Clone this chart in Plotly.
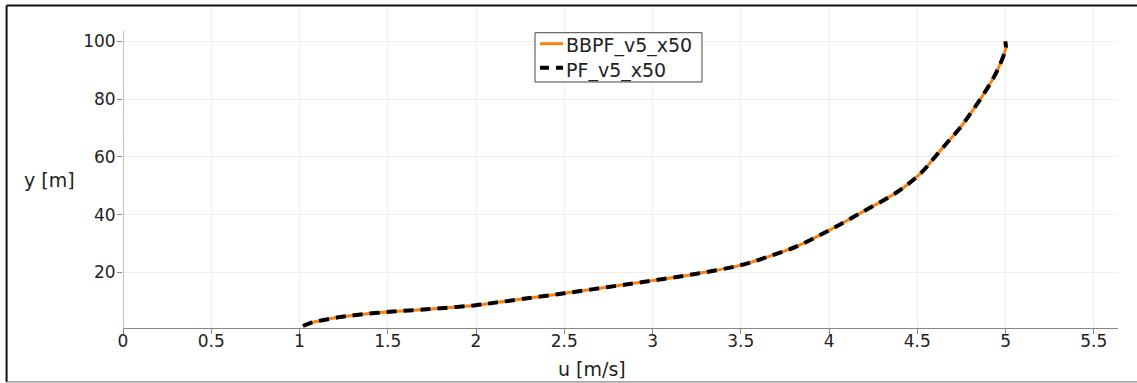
import plotly.graph_objects as go

# Velocity profile u(y) for the two solvers
u_bbpf = [1.02, 1.07, 1.13, 1.22, 1.32, 1.51, 1.70, 1.89, 2.00, 2.10, 2.27, 2.50,
          2.75, 3.00, 3.25, 3.49, 3.68, 3.83, 4.00, 4.19, 4.38, 4.46, 4.53, 4.60,
          4.67, 4.74, 4.81, 4.87, 4.93, 4.97, 4.995, 5.002, 4.998]
y_bbpf = [1.5, 2.7, 3.5, 4.5, 5.3, 6.4, 7.2, 8.1, 8.7, 9.5, 10.9, 12.8,
          15.0, 17.2, 19.6, 22.4, 26.0, 29.4, 34.6, 41.0, 47.6, 51.2, 55.0, 60.0,
          65.0, 69.9, 75.8, 81.2, 87.2, 92.2, 96.2, 98.2, 100.0]

u_pf = [1.02, 1.07, 1.13, 1.22, 1.32, 1.51, 1.70, 1.89, 2.00, 2.10, 2.27, 2.50,
        2.75, 3.00, 3.25, 3.49, 3.68, 3.83, 4.00, 4.19, 4.38, 4.46, 4.53, 4.60,
        4.67, 4.74, 4.81, 4.87, 4.93, 4.97, 4.995, 5.002, 4.998]
y_pf = [1.5, 2.7, 3.5, 4.5, 5.3, 6.4, 7.2, 8.1, 8.7, 9.5, 10.9, 12.8,
        15.0, 17.2, 19.6, 22.4, 26.0, 29.4, 34.6, 41.0, 47.6, 51.2, 55.0, 60.0,
        65.0, 69.9, 75.8, 81.2, 87.2, 92.2, 96.2, 98.2, 100.0]

series_names = ["BBPF_v5_x50", "PF_v5_x50"]

x_ticks = [0, 0.5, 1, 1.5, 2, 2.5, 3, 3.5, 4, 4.5, 5, 5.5]
x_tick_text = ["0", "0.5", "1", "1.5", "2", "2.5", "3", "3.5", "4", "4.5", "5", "5.5"]
y_ticks = [20, 40, 60, 80, 100]

X_RANGE = [0, 5.637]
Y_RANGE = [0.8, 111.9]
FONT = "DejaVu Sans, Verdana, sans-serif"
TEXT = "#222222"
ORANGE = "#ff7f0e"
DASH = "10px,7px"

fig = go.Figure()
fig.add_trace(go.Scatter(x=u_bbpf, y=y_bbpf, mode="lines", name=series_names[0],
                         showlegend=False,
                         line=dict(color=ORANGE, width=3, shape="spline", smoothing=1.0)))
fig.add_trace(go.Scatter(x=u_pf, y=y_pf, mode="lines", name=series_names[1],
                         showlegend=False,
                         line=dict(color="#000000", width=4, dash=DASH,
                                   shape="spline", smoothing=1.0)))

axis_common = dict(showgrid=True, gridcolor="#efefef", gridwidth=1, zeroline=False,
                   ticks="outside", ticklen=5, tickcolor="#888888",
                   tickfont=dict(family=FONT, size=17, color=TEXT))

fig.update_xaxes(range=X_RANGE, tickvals=x_ticks, ticktext=x_tick_text,
                 showline=True, linecolor="#888888", linewidth=1,
                 ticklabelstandoff=-7, **axis_common)
fig.update_yaxes(range=Y_RANGE, tickvals=y_ticks, showline=False,
                 ticklabelstandoff=-2, **axis_common)

shapes = [
    # y axis line, stopping just above the top tick
    dict(type="line", xref="x", yref="y", x0=0, x1=0, y0=Y_RANGE[0], y1=103.7,
         line=dict(color="#888888", width=1)),
    # page frame
    dict(type="line", xref="paper", yref="paper", x0=-0.117, x1=1.05, y0=1.0047, y1=1.0047,
         line=dict(color="#111111", width=2)),
    dict(type="line", xref="paper", yref="paper", x0=-0.117, x1=-0.117, y0=1.0047, y1=-0.168,
         line=dict(color="#111111", width=2)),
    dict(type="line", xref="paper", yref="paper", x0=-0.117, x1=1.05, y0=-0.168, y1=-0.168,
         line=dict(color="#666666", width=1)),
    # legend box and its line samples
    dict(type="rect", xref="paper", yref="paper", x0=0.4141, x1=0.5819, y0=0.7664, y1=0.9199,
         line=dict(color="#444444", width=1), fillcolor="white", layer="above"),
    dict(type="line", xref="paper", yref="paper", x0=0.4191, x1=0.4422, y0=0.8857, y1=0.8857,
         line=dict(color=ORANGE, width=3), layer="above"),
    dict(type="line", xref="paper", yref="paper", x0=0.4191, x1=0.4422, y0=0.8109, y1=0.8109,
         line=dict(color="#000000", width=4, dash="9px,7px"), layer="above"),
]

annotations = [
    dict(text="y [m]", xref="paper", yref="paper", x=-0.102, y=0.46,
         xanchor="left", yanchor="middle", showarrow=False,
         font=dict(family=FONT, size=19, color=TEXT)),
    dict(text="u [m/s]", xref="paper", yref="paper", x=0.471, y=-0.128,
         xanchor="center", yanchor="middle", showarrow=False,
         font=dict(family=FONT, size=19, color=TEXT)),
    dict(text=series_names[0], xref="paper", yref="paper", x=0.4435, y=0.880,
         xanchor="left", yanchor="middle", showarrow=False,
         font=dict(family=FONT, size=19, color=TEXT)),
    dict(text=series_names[1], xref="paper", yref="paper", x=0.4435, y=0.8037,
         xanchor="left", yanchor="middle", showarrow=False,
         font=dict(family=FONT, size=19, color=TEXT)),
]

fig.update_layout(
    width=1137, height=383,
    margin=dict(l=123, r=19, t=7, b=55),
    paper_bgcolor="white", plot_bgcolor="white",
    shapes=shapes, annotations=annotations,
    showlegend=False,
)

fig.write_html("out.html")
